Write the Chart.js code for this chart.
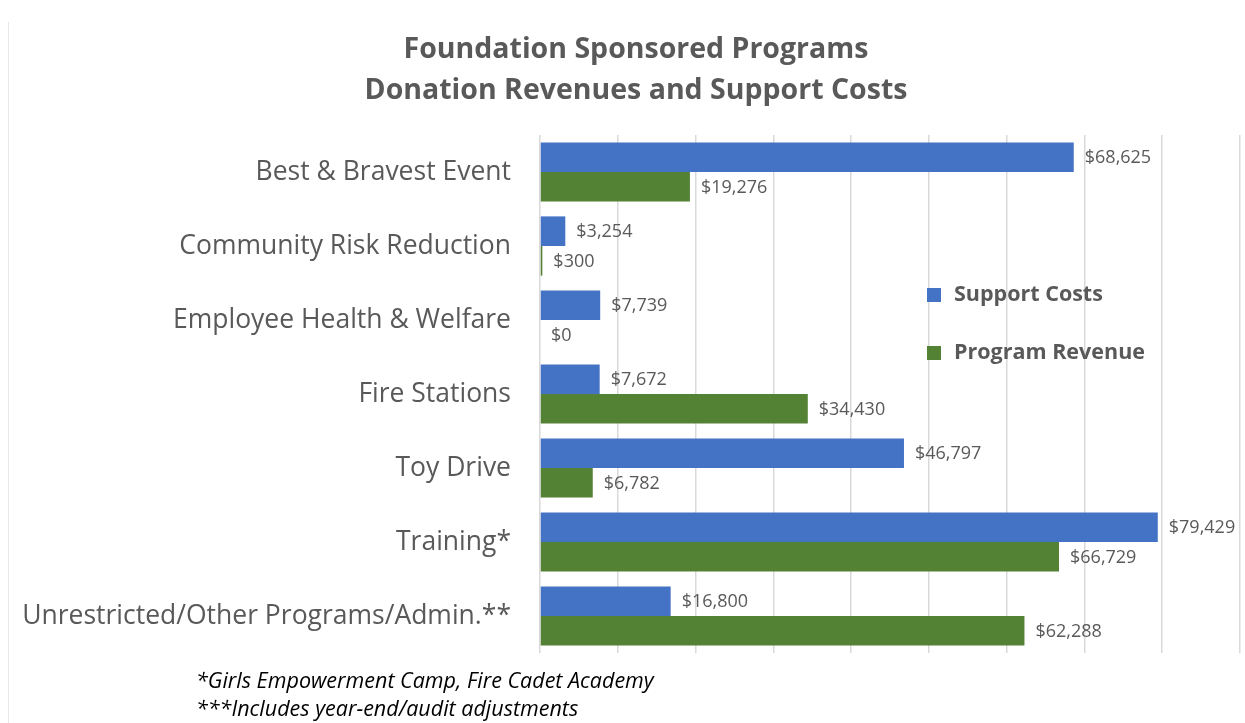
<!DOCTYPE html>
<html>
<head>
<meta charset="utf-8">
<script src="https://cdn.jsdelivr.net/npm/chart.js@4.4.0/dist/chart.umd.min.js"></script>
<style>
  html, body { margin: 0; padding: 0; background: #fff; }
  #wrap { position: relative; width: 1245px; height: 723px; overflow: hidden; }
  #c { position: absolute; left: 0; top: 0; }
  .title { position: absolute; left: 0; width: 1272px; text-align: center; font-family: "Open Sans", sans-serif; font-weight: bold; font-size: 28.5px; color: #595959; line-height: 41px; top: 27px; }
  .note { position: absolute; left: 196px; font-family: "Open Sans", sans-serif; font-style: italic; font-size: 21.5px; color: #000; line-height: 28px; top: 666px; }
  .frame { position: absolute; left: 8px; top: 22px; width: 1px; height: 701px; background: #e8e8e8; }
</style>
</head>
<body>
<div id="wrap">
  <div class="frame"></div>
  <canvas id="c" width="1245" height="723"></canvas>
  <div class="title">Foundation Sponsored Programs<br>Donation Revenues and Support Costs</div>
  <div class="note">*Girls Empowerment Camp, Fire Cadet Academy<br>***Includes year-end/audit adjustments</div>
</div>
<script>
const categories = [
  "Best & Bravest Event",
  "Community Risk Reduction",
  "Employee Health & Welfare",
  "Fire Stations",
  "Toy Drive",
  "Training*",
  "Unrestricted/Other Programs/Admin.**"
];
const supportCosts = [68625, 3254, 7739, 7672, 46797, 79429, 16800];
const programRevenue = [19276, 300, 0, 34430, 6782, 66729, 62288];
const seriesNames = ["Support Costs", "Program Revenue"];
const xMin = 0, xMax = 90000, xStep = 10000;

const FONT = "'Open Sans', sans-serif";
const GREY = "#595959";
const BLUE = "#4472C4";
const GREEN = "#548235";

const fmt = v => "$" + v.toLocaleString("en-US");

const dataLabels = {
  id: "dataLabels",
  afterDatasetsDraw(chart) {
    const ctx = chart.ctx;
    ctx.save();
    ctx.font = "18px " + FONT;
    ctx.fillStyle = GREY;
    ctx.textAlign = "left";
    ctx.textBaseline = "middle";
    chart.data.datasets.forEach((ds, di) => {
      chart.getDatasetMeta(di).data.forEach((bar, i) => {
        ctx.fillText(fmt(ds.data[i]), bar.x + 11, bar.y + 1);
      });
    });
    ctx.restore();
  }
};

const customLegend = {
  id: "customLegend",
  afterDraw(chart) {
    const ctx = chart.ctx;
    const a = chart.chartArea;
    const x = a.left + 387;
    const ys = [a.top + 160, a.top + 218];
    ctx.save();
    ctx.font = "bold 21.5px " + FONT;
    ctx.textBaseline = "middle";
    ctx.textAlign = "left";
    chart.data.datasets.forEach((ds, i) => {
      ctx.fillStyle = ds.backgroundColor;
      ctx.fillRect(x, ys[i] - 7, 14, 14);
      ctx.fillStyle = GREY;
      ctx.fillText(ds.label, x + 27, ys[i]);
    });
    ctx.restore();
  }
};

new Chart(document.getElementById("c"), {
  type: "bar",
  data: {
    labels: categories,
    datasets: [
      { label: seriesNames[0], data: supportCosts, backgroundColor: BLUE, categoryPercentage: 0.8, barPercentage: 1.0 },
      { label: seriesNames[1], data: programRevenue, backgroundColor: GREEN, categoryPercentage: 0.8, barPercentage: 1.0 }
    ]
  },
  options: {
    indexAxis: "y",
    responsive: false,
    animation: false,
    layout: { padding: { top: 135, bottom: 70, right: 5, left: 0 } },
    plugins: { legend: { display: false }, title: { display: false }, tooltip: { enabled: false } },
    scales: {
      x: {
        min: xMin, max: xMax,
        ticks: { display: false, stepSize: xStep },
        grid: { color: "#d9d9d9", lineWidth: 1.5, drawTicks: false },
        border: { display: false },
        afterFit(s) { s.height = 0; }
      },
      y: {
        grid: { display: false, drawTicks: false },
        border: { display: false },
        ticks: { color: GREY, font: { family: FONT, size: 26.5 }, padding: 29 },
        afterFit(s) { s.width = 540; }
      }
    }
  },
  plugins: [dataLabels, customLegend]
});
</script>
</body>
</html>
